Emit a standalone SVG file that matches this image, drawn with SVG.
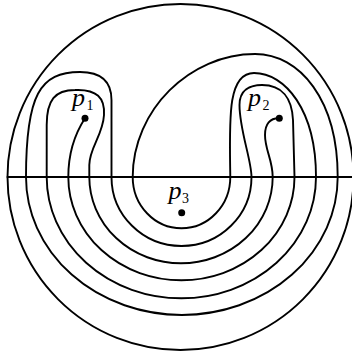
<svg xmlns="http://www.w3.org/2000/svg" width="352" height="353" viewBox="0 0 352 353">
<style>
.ln{fill:none;stroke:#000;stroke-width:1.9;stroke-linejoin:round;stroke-linecap:round}
.pt{fill:#000}
.lb{font-family:"Liberation Serif","Times New Roman",serif;font-style:italic;font-size:26px;fill:#000}
.sb{font-family:"Liberation Serif","Times New Roman",serif;font-size:14px;fill:#000}
</style>
<rect width="352" height="353" fill="#fff"/>
<g id="disk">
<circle class="ln" cx="180.5" cy="177" r="173"/>
<line class="ln" x1="7.5" y1="177" x2="353.5" y2="177"/>
</g>
<g id="connectors">
<path class="ln" d="M 85,118.3 C 80,126 68.3,145 68.3,177
A 113.1 103.3 0 0 0 294.5,177
L 293,120 C 292,98 282,85 262,85 C 250,85 239.5,90 239.5,105 C 239.5,130 251.5,160 251.5,177
A 70 69 0 0 1 111.5,177
L 111.5,100 C 111.5,80 100,72 80,72 C 40,72 26,95 26,177
A 155.85 138 0 0 0 337.7,177
C 337.7,100 300,54 255,54 C 190,54 132.7,110 132.7,177
A 48.8 51.3 0 0 0 230.3,177
C 229.5,120 227,73 254,73 C 285,73 316,110 316,177
A 134.65 121.3 0 0 1 46.7,177
L 46.7,125 C 46.7,100 55,90 75,90 C 97,89 105,98 104,115 C 103,135 89.3,148 89.3,165 L 89.3,177
A 91.7 86.3 0 0 0 272.7,177
C 272.7,160 265,150 265,135 C 265,124 270,118 279.3,118.3"/>
</g>
<g id="p1">
<circle class="pt" cx="85" cy="118.3" r="3.5"/>
<text class="lb" x="72" y="106">p</text><text class="sb" x="86.5" y="110">1</text>
</g>
<g id="p2">
<circle class="pt" cx="279.3" cy="118.3" r="3.5"/>
<text class="lb" x="248" y="106">p</text><text class="sb" x="262.5" y="110">2</text>
</g>
<g id="p3">
<circle class="pt" cx="181.7" cy="212.7" r="3.5"/>
<text class="lb" x="168.5" y="198.5">p</text><text class="sb" x="182" y="202.5">3</text>
</g>
</svg>
